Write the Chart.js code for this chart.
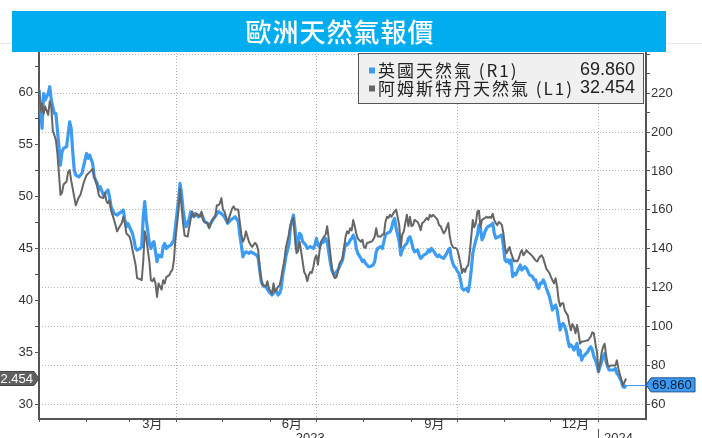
<!DOCTYPE html>
<html>
<head>
<meta charset="utf-8">
<script src="https://cdn.jsdelivr.net/npm/chart.js@4.4.1/dist/chart.umd.min.js"></script>
<style>
  html, body { margin: 0; padding: 0; background: #fff; }
  #wrap { width: 702px; height: 438px; }
</style>
</head>
<body>
<div id="wrap"><canvas id="gas" width="702" height="438"></canvas></div>
<script>
// days counted from 2023-01-01
const ukDay = [0,2,3,4,6,7,8,10,11,12,13,14,15,16,18,20,21,22,23,24,26,28,30,31,32,33,35,36,38,39,40,42,44,45,46,47,49,51,52,54,55,56,57,58,59,61,62,63,64,66,67,68,69,70,72,73,74,75,76,77,78,80,81,82,83,84,86,88,89,91,92,93,94,95,96,97,98,99,100,101,102,104,106,108,110,111,112,114,117,119,121,123,125,128,130,131,132,133,134,135,137,138,140,142,143,144,145,146,147,148,150,151,152,153,154,155,156,157,158,159,160,161,163,164,165,166,167,168,169,170,171,172,174,175,177,179,180,181,182,183,184,186,187,188,189,190,191,192,193,194,195,196,198,199,200,201,202,203,204,205,206,207,208,210,211,212,213,214,215,216,218,219,220,221,223,224,225,226,227,229,230,231,232,233,235,236,237,238,239,240,241,242,243,244,245,247,248,249,250,251,253,254,255,256,257,259,260,261,262,264,266,267,268,269,270,271,272,273,274,275,276,277,279,280,281,282,283,284,285,286,287,288,289,290,291,292,293,295,296,297,298,300,302,303,304,305,306,307,308,309,310,311,313,314,315,316,317,318,319,320,322,323,324,325,326,327,328,329,330,331,333,334,335,336,337,338,339,340,341,342,343,344,345,346,347,348,349,351,352,353,354,355,356,357,358,359,360,361,362,363,364,365,366,367,368,369,370,371,372,373,375,376,377,378,379,380,381,382,383];
const ukPrice = [221.6,201.9,219.9,216.5,219.9,223.4,216.5,209.6,209.6,201.1,192.5,183.0,189.9,191.6,192.5,205.3,201.9,189.9,180.5,177.9,177.0,178.7,185.6,189.0,186.5,188.2,183.9,177.0,173.6,170.2,171.9,167.6,169.3,170.2,166.7,161.6,158.1,157.3,158.1,159.0,159.9,154.7,151.3,153.0,151.3,147.8,144.4,140.1,139.3,140.1,141.0,156.4,164.2,154.7,142.7,140.1,142.7,143.6,138.4,133.3,136.7,135.8,141.0,142.7,140.1,141.0,141.8,144.4,151.3,165.0,173.6,168.4,159.9,154.7,151.3,153.0,155.6,159.0,157.3,156.4,158.1,156.4,158.1,153.9,153.0,151.3,153.0,155.6,159.0,158.1,156.4,153.0,154.7,156.4,153.9,147.0,141.9,135.8,137.6,138.4,137.6,138.4,137.6,136.7,135.0,129.0,123.0,121.3,120.4,120.4,117.8,117.0,116.1,117.0,118.7,117.8,116.1,117.0,119.5,126.4,130.7,135.8,141.9,150.4,153.9,157.3,150.4,140.1,143.6,147.9,147.0,143.6,141.9,140.1,141.0,140.1,141.9,145.3,141.9,141.0,142.7,143.6,145.3,143.6,138.4,133.3,129.0,127.3,126.4,128.1,129.0,130.7,134.1,138.4,142.7,141.9,142.7,144.4,145.3,147.0,145.3,140.1,137.6,135.0,133.3,134.1,132.4,131.6,130.7,130.7,131.6,133.3,138.4,140.1,141.0,140.1,143.6,147.0,147.9,148.7,150.4,153.9,155.6,150.4,143.6,136.7,139.3,141.0,141.9,142.7,145.3,146.1,143.6,140.1,138.4,139.3,136.7,135.0,135.8,136.7,137.6,139.3,138.4,140.1,139.3,136.7,135.8,136.7,135.8,135.0,137.6,139.3,140.2,135.1,132.4,130.7,129.9,128.2,127.3,123.9,119.6,118.7,119.6,117.9,122.2,129.0,137.6,141.1,144.5,147.0,152.2,150.5,144.5,146.2,148.8,150.5,151.4,152.2,153.1,147.9,145.4,146.2,147.1,141.1,134.2,133.3,134.2,132.4,134.2,125.6,127.3,126.5,129.9,131.6,129.0,129.9,130.7,129.9,128.2,126.5,125.6,123.9,123.9,120.4,119.6,122.2,122.2,123.9,122.2,119.6,115.3,111.8,108.4,110.1,111.0,108.4,103.3,98.1,100.7,101.5,99.8,97.3,93.0,89.5,90.4,89.5,87.8,91.2,85.2,87.8,82.6,84.4,85.2,86.1,86.9,88.6,89.5,87.8,84.4,82.6,80.1,76.6,79.2,81.8,84.4,86.1,81.8,79.2,77.5,77.5,77.5,78.4,75.8,74.9,73.2,71.5,68.9,68.6,69.86];

const ttfDay = [0,1,2,3,4,6,7,8,9,11,12,13,14,15,16,18,19,20,21,23,24,25,26,27,29,31,33,35,36,38,39,40,42,43,44,45,46,47,49,51,52,54,55,56,57,59,60,61,63,64,66,67,68,69,70,72,73,74,75,76,77,78,80,81,82,83,85,86,87,88,89,91,92,93,94,95,97,98,99,100,101,103,105,106,107,108,110,111,113,115,116,117,118,119,120,121,122,123,124,126,127,128,130,131,132,133,134,135,137,138,139,140,141,142,143,144,145,146,147,148,149,150,152,153,154,155,156,157,158,159,160,161,163,164,165,166,167,168,169,170,171,172,173,174,175,176,177,178,179,180,181,182,183,184,186,187,188,189,190,191,192,193,194,195,196,198,199,200,201,202,203,204,205,206,207,208,210,211,212,213,214,215,216,217,218,219,220,221,223,224,225,226,227,228,229,230,231,232,233,235,236,237,238,239,240,241,242,243,244,245,247,248,249,250,251,252,253,254,255,256,257,259,260,261,262,264,265,266,267,268,269,270,271,272,273,274,275,276,277,278,279,280,281,282,283,284,285,286,287,288,289,291,292,293,294,295,296,297,298,299,300,301,302,303,304,305,306,307,308,310,311,312,313,314,315,316,317,318,319,320,322,323,324,325,326,327,328,329,330,331,333,334,335,336,337,338,339,340,341,342,343,345,346,347,348,349,350,351,352,353,354,355,357,358,359,360,361,362,363,364,365,366,367,368,369,370,371,372,373,375,376,377,378,379,380,381,382,383];
const ttfPrice = [60.5,58.1,58.9,57.9,58.6,57.8,59.1,58.6,56.3,55.4,54.1,52.2,50.1,50.3,51.1,51.4,52.3,52.5,51.5,49.9,49.1,49.5,49.9,50.1,51.2,52.0,52.3,52.6,51.9,50.9,50.1,49.9,49.8,50.3,49.5,49.3,49.6,48.6,47.7,46.6,46.9,47.4,48.0,47.4,46.4,46.1,45.6,44.8,43.4,42.1,42.0,41.9,43.7,46.6,45.9,43.7,41.9,41.8,42.1,41.6,40.3,41.6,41.0,41.9,41.6,42.2,42.4,42.7,42.9,43.8,45.8,48.6,50.7,49.0,47.4,46.2,46.1,47.0,47.8,48.5,48.0,48.3,48.0,48.5,47.7,47.5,47.4,46.9,47.7,48.0,49.1,49.1,49.3,49.8,48.7,48.5,48.0,47.4,47.9,48.8,49.0,48.7,48.7,47.5,46.3,45.6,45.9,46.6,45.6,45.3,45.1,45.3,45.5,45.3,44.8,43.0,41.9,41.4,41.4,41.3,41.8,41.1,40.6,41.6,40.8,41.0,41.3,41.4,42.1,43.0,43.7,45.0,46.3,47.2,47.7,47.9,45.9,44.5,44.7,45.6,44.7,43.7,42.7,42.4,41.8,42.4,42.7,42.6,43.2,44.0,44.3,43.4,44.7,45.6,46.1,46.3,47.1,45.9,44.5,43.2,42.4,42.1,42.2,42.7,43.5,44.0,45.0,46.1,46.6,46.4,46.9,46.7,47.7,47.1,46.4,45.9,45.6,45.8,45.1,45.0,45.5,45.5,45.6,45.6,45.8,46.1,46.9,46.1,46.1,46.3,46.3,47.5,48.0,47.9,48.2,48.0,48.3,48.5,48.7,47.2,45.1,46.3,46.6,47.4,48.2,47.1,48.0,47.1,47.2,47.7,47.5,47.2,46.7,47.4,47.5,47.7,47.9,47.7,48.2,48.0,48.2,47.9,47.7,47.2,47.1,46.4,46.6,47.0,47.4,46.1,45.4,45.1,45.0,45.0,44.8,44.2,43.5,42.6,43.0,42.7,43.2,43.3,44.5,46.1,47.7,47.0,47.4,48.5,48.6,47.0,47.7,47.9,48.0,47.9,48.0,47.9,48.3,47.7,47.4,47.2,47.5,47.4,47.2,46.4,45.1,44.5,44.8,45.1,44.5,43.7,43.8,43.7,44.0,44.5,44.8,44.3,44.5,44.8,44.6,44.5,44.2,44.0,43.8,43.7,44.0,44.2,44.3,44.0,43.5,43.0,42.6,42.2,41.9,41.6,42.1,41.3,40.0,39.4,39.7,39.7,39.0,38.5,37.7,37.1,37.7,37.4,36.8,37.6,36.8,35.8,36.0,36.0,36.1,36.1,36.3,36.5,36.9,36.8,35.8,35.0,33.1,33.9,34.9,35.5,35.8,34.7,33.7,33.6,33.7,33.7,33.7,34.2,33.4,32.8,32.3,31.8,32.1,32.454];

// axis ticks and labels
const monthStart = [0,31,59,90,120,151,181,212,243,273,304,334,365];
const quarterLine = [90,181,273,365];
const monthLabel = ['3月','6月','9月','12月'];
const monthLabelDay = [74,165,258,350];
const yearLabel = ['2023','2024'];
const yearLabelDay = [177,378];
const leftTicks = [30,32.5,35,37.5,40,42.5,45,47.5,50,52.5,55,57.5,60,62.5];
const rightTicks = [60,70,80,90,100,110,120,130,140,150,160,170,180,190,200,210,220,230,240];

const titleText = '歐洲天然氣報價';
const ukName = '英國天然氣 (R1)';
const ttfName = '阿姆斯特丹天然氣 (L1)';

const ukColor = '#3d9cf2';
const ttfColor = '#666666';
const axisColor = '#555555';
const gridColor = '#b4b4b4';
const clear = 'rgba(0,0,0,0)';

const lastUk = ukPrice[ukPrice.length - 1];
const lastTtf = ttfPrice[ttfPrice.length - 1];

Chart.defaults.font.family = '"Liberation Sans", "Noto Sans CJK TC", sans-serif';
Chart.defaults.color = '#333';

function setTicks(values) {
  return scale => { scale.ticks = values.map(v => ({ value: v })); };
}

// arrow tag with the latest value, pointing at an axis
function valueTag(c, tipX, y, dir, bodyW, fill, stroke, text, textColor) {
  const h = 14, notch = 5;
  const x0 = tipX + dir * notch;
  const x1 = x0 + dir * bodyW;
  c.beginPath();
  c.moveTo(tipX, y);
  c.lineTo(x0, y - h / 2);
  c.lineTo(x1, y - h / 2);
  c.lineTo(x1, y + h / 2);
  c.lineTo(x0, y + h / 2);
  c.closePath();
  c.fillStyle = fill;
  c.fill();
  c.strokeStyle = stroke;
  c.lineWidth = 1;
  c.stroke();
  c.fillStyle = textColor;
  c.font = '13px "Liberation Sans"';
  c.textBaseline = 'middle';
  if (dir > 0) {
    c.textAlign = 'left';
    c.fillText(text, x0 + 1, y + 0.5);
  } else {
    c.textAlign = 'right';
    c.fillText(text, x0 - 1, y + 0.5);
  }
}

const decorations = {
  id: 'decorations',
  beforeDraw(chart) {
    const c = chart.ctx;
    c.save();
    c.fillStyle = '#fff';
    c.fillRect(0, 0, chart.width, chart.height);
    c.strokeStyle = '#e8e8e8';
    c.lineWidth = 1;
    c.beginPath();
    c.moveTo(0, 43.5);
    c.lineTo(chart.width, 43.5);
    c.stroke();
    c.fillStyle = '#00adef';
    c.fillRect(12, 11, 654, 41);
    c.fillStyle = '#fff';
    c.font = '500 26px "Noto Sans CJK TC"';
    c.letterSpacing = '1px';
    c.textAlign = 'center';
    c.textBaseline = 'middle';
    c.fillText(titleText, 340, 32);
    c.restore();
  },
  afterDatasetsDraw(chart) {
    const c = chart.ctx;
    const x = chart.scales.x, yR = chart.scales.yR;
    const y = Math.round(yR.getPixelForValue(lastUk)) + 0.5;
    c.save();
    c.strokeStyle = ukColor;
    c.lineWidth = 1;
    c.beginPath();
    c.moveTo(x.getPixelForValue(ukDay[ukDay.length - 1]), y);
    c.lineTo(chart.chartArea.right, y);
    c.stroke();
    c.restore();
  },
  afterDraw(chart) {
    const c = chart.ctx;
    const area = chart.chartArea;
    const x = chart.scales.x, yL = chart.scales.yL, yR = chart.scales.yR;
    c.save();

    // legend box
    c.fillStyle = '#f0f0f0';
    c.fillRect(358.5, 53.5, 285, 50);
    c.strokeStyle = '#555';
    c.lineWidth = 1;
    c.strokeRect(358.5, 53.5, 285, 50);
    const rows = [
      { color: ukColor, name: ukName, value: lastUk, y: 70.5 },
      { color: ttfColor, name: ttfName, value: lastTtf, y: 88.5 }
    ];
    c.textBaseline = 'middle';
    rows.forEach(r => {
      c.fillStyle = r.color;
      c.fillRect(369, r.y - 3, 6, 6);
      c.fillStyle = '#222';
      c.font = '17px "Noto Sans CJK TC"';
      c.letterSpacing = '2px';
      c.textAlign = 'left';
      c.fillText(r.name, 378, r.y);
      c.font = '18px "Liberation Sans"';
      c.letterSpacing = '0px';
      c.textAlign = 'right';
      c.fillText(r.value.toFixed(3), 635, r.y);
    });

    // latest value tags
    valueTag(c, area.right, yR.getPixelForValue(lastUk), 1, 44, ukColor, '#1b4f8a', lastUk.toFixed(3), '#0a1a33');
    valueTag(c, area.left, yL.getPixelForValue(lastTtf), -1, 46, '#5f5f5f', '#444', lastTtf.toFixed(3), '#fff');

    // year divider under the time axis
    const xd = Math.round(x.getPixelForValue(365)) + 0.5;
    c.strokeStyle = axisColor;
    c.beginPath();
    c.moveTo(xd, 429);
    c.lineTo(xd, 438);
    c.stroke();
    c.restore();
  }
};

new Chart(document.getElementById('gas'), {
  type: 'line',
  data: {
    datasets: [
      {
        label: ttfName,
        data: ttfDay.map((d, i) => ({ x: d, y: ttfPrice[i] })),
        yAxisID: 'yL',
        borderColor: ttfColor,
        borderWidth: 2,
        pointRadius: 0,
        borderJoinStyle: 'round',
        tension: 0
      },
      {
        label: ukName,
        data: ukDay.map((d, i) => ({ x: d, y: ukPrice[i] })),
        yAxisID: 'yR',
        borderColor: ukColor,
        borderWidth: 3.2,
        pointRadius: 0,
        borderJoinStyle: 'round',
        tension: 0
      }
    ]
  },
  options: {
    responsive: false,
    animation: false,
    devicePixelRatio: 1,
    events: [],
    layout: { padding: { top: 53, left: 0, right: 0, bottom: 0 } },
    plugins: { legend: { display: false }, tooltip: { enabled: false } },
    scales: {
      x: {
        type: 'linear',
        min: 0,
        max: 396,
        afterBuildTicks: setTicks([...monthStart, ...monthLabelDay, ...yearLabelDay].sort((a, b) => a - b)),
        afterFit: s => { s.height = 19; },
        border: { color: axisColor, width: 2, dash: [1, 2] },
        grid: {
          color: ctx => (ctx.tick && quarterLine.includes(ctx.tick.value) ? gridColor : clear),
          tickColor: ctx => (ctx.tick && monthStart.includes(ctx.tick.value) ? axisColor : clear),
          tickLength: 3,
          lineWidth: 1
        },
        ticks: {
          autoSkip: false,
          maxRotation: 0,
          minRotation: 0,
          padding: -5,
          color: '#333',
          font: { size: 13, lineHeight: 1.1 },
          callback: v => {
            const m = monthLabelDay.indexOf(v);
            if (m >= 0) return monthLabel[m];
            const y = yearLabelDay.indexOf(v);
            if (y >= 0) return ['', yearLabel[y]];
            return '';
          }
        }
      },
      yL: {
        position: 'left',
        min: 28.56,
        max: 63.75,
        afterBuildTicks: setTicks(leftTicks),
        afterFit: s => { s.width = 39; },
        border: { color: axisColor, width: 2 },
        grid: { drawOnChartArea: false, tickLength: 4, tickColor: axisColor },
        ticks: {
          autoSkip: false,
          padding: 2,
          color: '#333',
          font: { size: 13 },
          callback: v => (v % 5 === 0 ? String(v) : '')
        }
      },
      yR: {
        position: 'right',
        min: 52.28,
        max: 240.75,
        afterBuildTicks: setTicks(rightTicks),
        afterFit: s => { s.width = 56; },
        border: { color: axisColor, width: 2, dash: [1, 2] },
        grid: {
          color: ctx => (ctx.tick && ctx.tick.value % 20 === 0 ? gridColor : clear),
          tickLength: 4,
          tickColor: axisColor,
          lineWidth: 1
        },
        ticks: {
          autoSkip: false,
          padding: 1,
          color: '#333',
          font: { size: 13 },
          callback: v => (v % 20 === 0 && v < 240 ? String(v) : '')
        }
      }
    }
  },
  plugins: [decorations]
});
</script>
</body>
</html>
